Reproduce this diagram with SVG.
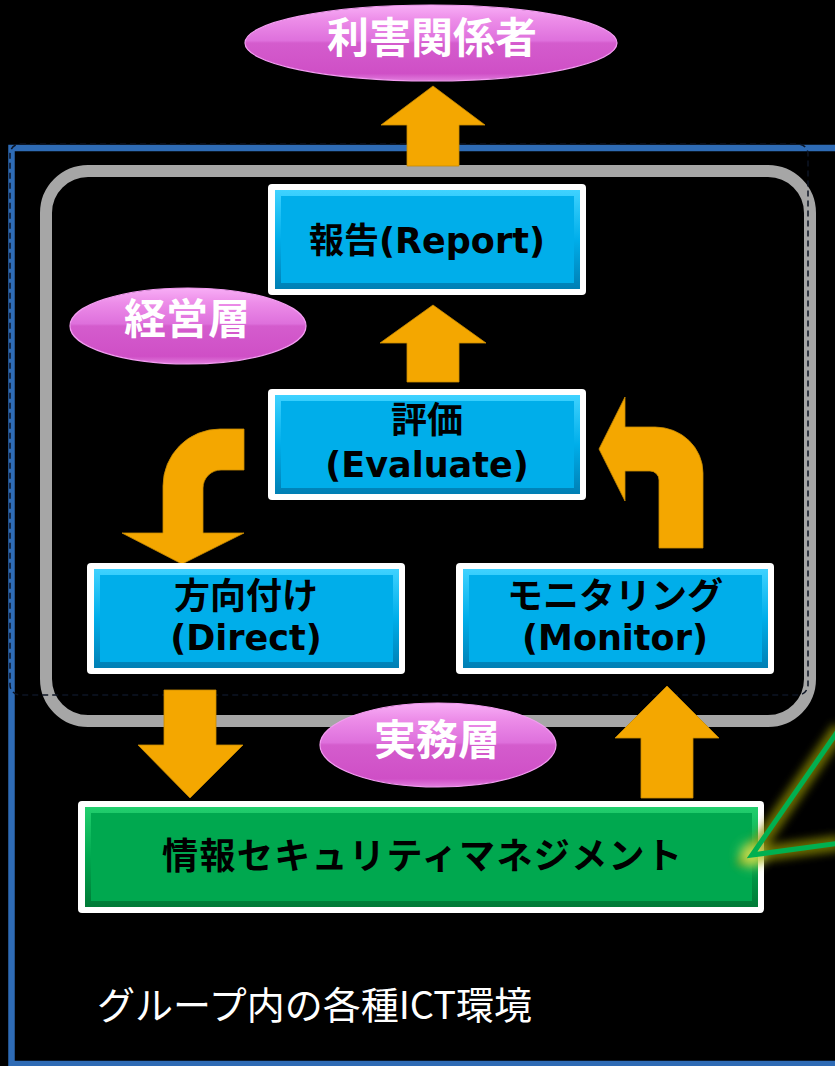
<svg xmlns="http://www.w3.org/2000/svg" width="835" height="1066" viewBox="0 0 835 1066">
  <defs>
    <linearGradient id="blueBevel" x1="0" y1="0" x2="0" y2="1">
      <stop offset="0" stop-color="#3fd2ff"/>
      <stop offset="0.5" stop-color="#00aeea"/>
      <stop offset="1" stop-color="#007fb4"/>
    </linearGradient>
    <linearGradient id="greenBevel" x1="0" y1="0" x2="0" y2="1">
      <stop offset="0" stop-color="#22cf6e"/>
      <stop offset="0.5" stop-color="#00a84f"/>
      <stop offset="1" stop-color="#007a36"/>
    </linearGradient>
    <linearGradient id="pinkGloss" x1="0" y1="0" x2="0" y2="1">
      <stop offset="0" stop-color="#f8aef6"/>
      <stop offset="0.2" stop-color="#ec8ce8"/>
      <stop offset="0.47" stop-color="#de70dc"/>
      <stop offset="0.5" stop-color="#d45ccd"/>
      <stop offset="0.9" stop-color="#cf4fc6"/>
      <stop offset="1" stop-color="#e27ede"/>
    </linearGradient>
    <filter id="glow" x="-50%" y="-50%" width="200%" height="200%">
      <feGaussianBlur stdDeviation="4"/>
    </filter>
    <filter id="spot" x="-100%" y="-100%" width="300%" height="300%">
      <feGaussianBlur stdDeviation="6"/>
    </filter>
  </defs>
  <style>
    .white { fill: #ffffff; }
    .panel-blue { fill: url(#blueBevel); }
    .face-blue { fill: #00aeea; }
    .panel-green { fill: url(#greenBevel); }
    .face-green { fill: #00a84f; }
    .oval { fill: url(#pinkGloss); stroke: #f49cf2; stroke-width: 1.2; }
    .oval-text { font-family: "Noto Sans CJK JP", sans-serif; font-weight: bold; font-size: 42px; fill: #ffffff; text-anchor: middle; }
    .jp { font-family: "Noto Sans CJK JP", sans-serif; font-weight: bold; font-size: 36px; fill: #000000; text-anchor: middle; }
    .en { font-family: "DejaVu Sans", "Noto Sans CJK JP", sans-serif; font-weight: bold; font-size: 35px; fill: #000000; text-anchor: middle; }
    .arrow { fill: #f4a700; stroke: #c98b00; stroke-width: 0.8; }
  </style>

  <rect width="835" height="1066" fill="#000000"/>

  <!-- ICT environment frame -->
  <g id="ict-frame">
    <path d="M840,148 H11.5 V1064 H840" fill="none" stroke="#2e6bb5" stroke-width="6.5"/>
    <rect x="46" y="171" width="764" height="550" rx="42" fill="none" stroke="#a6a6a6" stroke-width="12"/>
    <rect x="10" y="144" width="798" height="551" rx="10" fill="none" stroke="#0c1424" stroke-width="1.5" stroke-dasharray="6 4"/>
    <text x="97" y="1019" font-family="Noto Sans CJK JP, sans-serif" font-size="38" fill="#ffffff">グループ内の各種ICT環境</text>
  </g>

  <!-- connectors -->
  <g id="connectors">
    <path class="arrow" d="M433,86 L485,125 L459,125 L459,166 L407,166 L407,125 L381,125 Z"/>
    <path class="arrow" d="M433,305 L486,343 L459,343 L459,382 L407,382 L407,343 L380,343 Z"/>
    <path class="arrow" d="M244,429 L220,429 A57,57 0 0 0 163,486 L163,533 L122,533 L182,564 L244,533 L203,533 L203,488 A18,18 0 0 1 221,470 L244,470 Z"/>
    <path class="arrow" d="M599,449 L625,397 L625,427 L655,427 A48,46 0 0 1 703,473 L703,548 L659,548 L659,480 A9,9 0 0 0 650,471 L625,471 L625,501 Z"/>
    <path class="arrow" d="M164,690 L216,690 L216,745 L243,745 L190,798 L138,745 L164,745 Z"/>
    <path class="arrow" d="M667,686 L719,738 L693,738 L693,798 L641,798 L641,738 L615,738 Z"/>
  </g>

  <!-- stakeholders -->
  <g id="stakeholders">
    <ellipse class="oval" cx="431" cy="43" rx="186" ry="38"/>
    <text class="oval-text" x="432" y="53">利害関係者</text>
  </g>

  <!-- management layer label -->
  <g id="management-layer">
    <ellipse class="oval" cx="188" cy="326" rx="118" ry="38"/>
    <text class="oval-text" x="187" y="334">経営層</text>
  </g>

  <!-- report -->
  <g id="report">
    <rect class="white" x="268" y="184" width="318" height="111" rx="4"/>
    <rect class="panel-blue" x="275" y="190" width="305" height="99"/>
    <rect class="face-blue" x="281" y="196" width="293" height="87"/>
    <text class="en" x="427" y="253">報告(Report)</text>
  </g>

  <!-- evaluate -->
  <g id="evaluate">
    <rect class="white" x="268" y="389" width="318" height="111" rx="4"/>
    <rect class="panel-blue" x="275" y="395" width="305" height="99"/>
    <rect class="face-blue" x="281" y="401" width="293" height="87"/>
    <text class="jp" x="427" y="433">評価</text>
    <text class="en" x="427" y="477">(Evaluate)</text>
  </g>

  <!-- direct -->
  <g id="direct">
    <rect class="white" x="87" y="563" width="318" height="111" rx="4"/>
    <rect class="panel-blue" x="94" y="569" width="305" height="99"/>
    <rect class="face-blue" x="100" y="575" width="293" height="87"/>
    <text class="jp" x="246" y="609">方向付け</text>
    <text class="en" x="246" y="650">(Direct)</text>
  </g>

  <!-- monitor -->
  <g id="monitor">
    <rect class="white" x="456" y="563" width="318" height="111" rx="4"/>
    <rect class="panel-blue" x="463" y="569" width="305" height="99"/>
    <rect class="face-blue" x="469" y="575" width="293" height="87"/>
    <text class="jp" x="615" y="609">モニタリング</text>
    <text class="en" x="615" y="650">(Monitor)</text>
  </g>

  <!-- operations layer label -->
  <g id="operations-layer">
    <ellipse class="oval" cx="438" cy="745" rx="118" ry="42"/>
    <text class="oval-text" x="437" y="755">実務層</text>
  </g>

  <!-- information security management -->
  <g id="isms">
    <rect class="white" x="78" y="801" width="686" height="112" rx="4"/>
    <rect class="panel-green" x="85" y="807" width="673" height="100"/>
    <rect class="face-green" x="91" y="813" width="661" height="88"/>
    <text class="jp" x="422" y="869" font-size="38" textLength="520">情報セキュリティマネジメント</text>
  </g>

  <!-- callout leader -->
  <g id="callout">
    <path d="M840,728 L752,855 L840,843" fill="none" stroke="#8c8c00" stroke-width="16" stroke-linejoin="miter" opacity="0.75" filter="url(#glow)"/>
    <circle cx="752" cy="855" r="12" fill="#d8f060" opacity="0.8" filter="url(#spot)"/>
    <path d="M840,728 L752,855 L840,843" fill="none" stroke="#00b050" stroke-width="5" stroke-linejoin="miter"/>
  </g>
</svg>
